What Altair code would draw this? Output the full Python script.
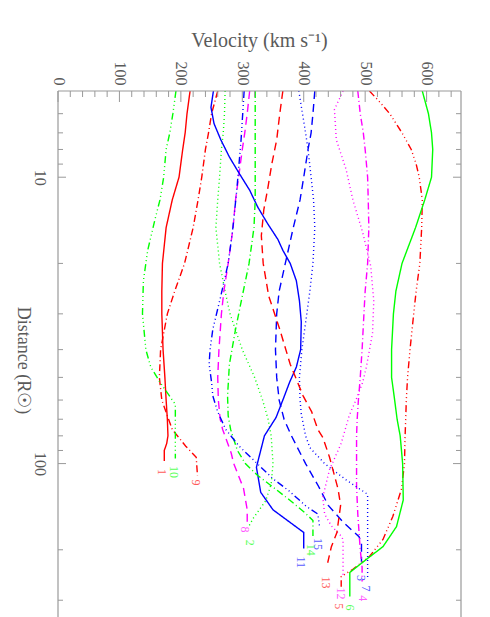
import altair as alt
import pandas as pd

# ---- data (distance in R_sun, velocity in km/s) ----
c1_d = [5, 6, 7, 8, 10, 12, 15, 20, 25, 30, 40, 50, 60, 70, 80, 85, 90, 98]
c1_v = [215, 210, 207, 203, 197, 186, 176, 170, 169, 169, 171, 174, 176, 178, 179, 177, 173, 173]

c2_d = [5, 6, 7, 8, 10, 12, 15, 20, 25, 30, 40, 50, 60, 70, 80, 100, 118, 135, 155, 165]
c2_v = [272, 271, 269, 266, 263, 260, 257, 263, 272, 280, 300, 320, 333, 342, 347, 350, 347, 338, 318, 311]

c3_d = [5, 6, 7, 8, 10, 12, 15, 20, 25, 30, 40, 50, 60, 70, 80, 100, 120, 140, 160, 180, 190, 220]
c3_v = [418, 415, 412, 407, 400, 394, 383, 370, 360, 356, 354, 356, 360, 368, 380, 403, 424, 440, 464, 490, 494, 494]

c4_d = [5, 6, 7, 8, 10, 12, 15, 20, 25, 30, 40, 50, 60, 70, 80, 100, 120, 150, 200, 230, 258]
c4_v = [488, 492, 497, 500, 504, 505, 506, 504, 500, 498, 495, 492, 489, 487, 486, 486, 486, 488, 492, 495, 495]

c5_d = [5, 5.5, 6, 7, 8, 9, 10, 12, 15, 20, 25, 30, 40, 50, 60, 70, 80, 100, 123, 153, 184, 211, 234, 248, 269]
c5_v = [507, 525, 540, 560, 575, 583, 588, 593, 592, 589, 583, 579, 573, 569, 567, 566, 565, 564, 559, 545, 529, 507, 480, 461, 461]

c6_d = [5, 6, 7, 8, 10, 12, 15, 20, 25, 30, 40, 50, 60, 70, 80, 100, 134, 166, 195, 216, 240, 291]
c6_v = [593, 603, 608, 610, 608, 597, 582, 560, 550, 546, 543, 543, 548, 552, 557, 561, 562, 551, 529, 502, 475, 475]

c7_d = [5, 6, 7, 8, 10, 12, 15, 20, 25, 30, 40, 50, 60, 67, 80, 88, 100, 114, 128, 250]
c7_v = [392, 398, 403, 407, 412, 416, 418, 415, 410, 405, 397, 393, 394, 396, 403, 410, 434, 469, 504, 504]

c8_d = [5, 6, 7, 8, 10, 12, 15, 20, 25, 30, 40, 50, 60, 70, 76, 92, 100, 122, 145, 165]
c8_v = [312, 308, 304, 300, 294, 289, 285, 277, 270, 266, 262, 260, 261, 264, 268, 282, 286, 302, 308, 308]

c9_d = [5, 6, 7, 8, 10, 12, 15, 20, 25, 30, 40, 50, 60, 70, 76, 87, 95, 110]
c9_v = [260, 250, 245, 240, 234, 228, 220, 206, 190, 178, 167, 165, 169, 180, 186, 208, 225, 227]

c10_d = [5, 6, 7, 8, 10, 12, 14, 18, 23, 30, 40, 46, 52, 60, 62, 96]
c10_v = [192, 187, 182, 176, 172, 166, 158, 146, 139, 137.5, 143, 151, 166, 186, 191, 191]

c11_d = [5, 5.7, 6.5, 7.4, 8.5, 9.7, 11.1, 12.7, 14.5, 16.5, 18, 20, 23, 27, 32, 40, 46, 52, 60, 69, 80, 103, 126, 145, 160, 174, 198]
c11_v = [253, 249, 254, 265, 279, 295, 312, 325, 341, 358, 366, 378, 388, 393, 396, 395, 388, 377, 366, 355, 336, 323, 330, 350, 377, 400, 400]

c12_d = [5, 5.8, 7.4, 9.4, 12, 15.6, 20.4, 27, 35, 46, 52, 60, 68, 85, 105, 131, 150, 165, 180, 185, 250]
c12_v = [464, 450, 453, 469, 480, 496, 509, 514, 512, 502, 496, 485, 474, 461, 442, 431, 434, 445, 462, 464, 464]

c13_d = [5, 6, 7.4, 9, 11.1, 13, 16, 20, 26, 34, 45, 58, 66, 76, 81, 95, 123, 140, 174, 195, 222]
c13_v = [366, 361, 356, 348, 341, 335, 331, 334, 343, 361, 378, 399, 413, 423, 431, 442, 456, 460, 454, 445, 439]

c14_d = [5, 8, 12, 15, 20, 26, 34, 45, 58, 68, 76, 90, 100, 110, 119, 134, 148, 158, 179]
c14_v = [321, 321, 321, 319, 311, 300, 289, 279, 276, 277, 281, 292, 305, 325, 346, 377, 401, 415, 415]

c15_d = [5, 7.4, 11.1, 15.5, 20, 26, 34, 40, 45, 52, 58, 66, 76, 87, 98, 113, 125, 141, 150, 167]
c15_v = [303, 298, 291, 284, 277, 265, 252, 247.5, 246, 250, 252, 260, 273, 295, 320, 350, 377, 404, 423, 426]

curve_names = [str(i) for i in range(1, 16)]
curve_colors = ["#ff0000", "#00ff00", "#0000ff", "#ff00ff"] * 3 + ["#ff0000", "#00ff00", "#0000ff"]
label_colors = ["#ff5a5a", "#5aff5a", "#5a5aff", "#ff5aff"] * 3 + ["#ff5a5a", "#5aff5a", "#5a5aff"]
curve_dashes = [[1, 0], [1, 3], [8, 5], [7, 3, 1, 3], [7, 3, 1, 3, 1, 3, 1, 3]] * 3

# end-of-curve labels (velocity, distance)
lab_v = [170, 312, 494, 496, 458, 475, 502, 305, 225, 189, 396, 461, 437, 412, 423]
lab_d = [107, 189, 251, 295, 315, 318, 273, 170, 116.5, 107, 221, 284, 260, 200, 191]

# axis ticks
vel_major = [0, 100, 200, 300, 400, 500, 600]
vel_minor = [20, 40, 60, 80, 120, 140, 160, 180, 220, 240, 260, 280, 320, 340, 360, 380,
             420, 440, 460, 480, 520, 540, 560, 580, 620, 640]
dist_major = [10, 100]
dist_minor = [6, 7, 8, 9, 20, 30, 40, 50, 60, 70, 80, 90, 200, 300]

# ---- build tables ----
all_d = [c1_d, c2_d, c3_d, c4_d, c5_d, c6_d, c7_d, c8_d, c9_d, c10_d, c11_d, c12_d, c13_d, c14_d, c15_d]
all_v = [c1_v, c2_v, c3_v, c4_v, c5_v, c6_v, c7_v, c8_v, c9_v, c10_v, c11_v, c12_v, c13_v, c14_v, c15_v]
rows = []
for name, ds, vs in zip(curve_names, all_d, all_v):
    for i, (d, v) in enumerate(zip(ds, vs)):
        rows.append({"curve": name, "d": d, "v": v, "idx": i})
df = pd.DataFrame(rows)
labdf = pd.DataFrame({"curve": curve_names, "v": lab_v, "d": lab_d})

W, H = 403, 545
FONT = "Liberation Serif"
TXT = "#5a5a5a"
LINE = "#999999"

xscale = alt.Scale(domain=[0, 656], nice=False, zero=False)
yscale = alt.Scale(type="log", domain=[5, 400], reverse=True, nice=False)
cscale = alt.Scale(domain=curve_names, range=curve_colors)
lscale = alt.Scale(domain=curve_names, range=label_colors)
dscale = alt.Scale(domain=curve_names, range=curve_dashes)

xaxis = alt.Axis(orient="top", values=vel_major, format="d", title="Velocity (km s⁻¹)",
                 labelAngle=90, labelAlign="right", labelBaseline="middle", labelPadding=6,
                 ticks=False, domain=False, grid=False, labelOverlap=False, labelFlush=False,
                 labelBound=False, labelFont=FONT, labelFontSize=16, labelColor=TXT,
                 titleFont=FONT, titleFontSize=20, titleFontWeight="normal", titleColor=TXT,
                 titleX=201, titleY=-51, titleAlign="center", titleBaseline="middle")
yaxis = alt.Axis(orient="left", values=dist_major, format="d", title="Distance (R☉)",
                 labelAngle=90, labelAlign="center", labelBaseline="top", labelPadding=11,
                 ticks=False, domain=False, grid=False, labelOverlap=False, labelFlush=False,
                 labelBound=False, labelFont=FONT, labelFontSize=16, labelColor=TXT,
                 titleFont=FONT, titleFontSize=18, titleFontWeight="normal", titleColor=TXT,
                 titleAngle=90, titleX=-36, titleY=269, titleAlign="center", titleBaseline="middle")

lines = alt.Chart(df).mark_line(strokeWidth=1.4, clip=True).encode(
    x=alt.X("v:Q", scale=xscale, axis=xaxis),
    y=alt.Y("d:Q", scale=yscale, axis=yaxis),
    color=alt.Color("curve:N", scale=cscale, legend=None),
    strokeDash=alt.StrokeDash("curve:N", scale=dscale, legend=None),
    detail="curve:N",
    order="idx:Q",
)

labels = alt.Chart(labdf).mark_text(angle=90, align="center", baseline="middle",
                                    font=FONT, fontSize=12).encode(
    x=alt.X("v:Q", scale=xscale, axis=None),
    y=alt.Y("d:Q", scale=yscale, axis=None),
    text="curve:N",
    color=alt.Color("curve:N", scale=lscale, legend=None),
)

def vtick(values, length):
    return alt.Chart(pd.DataFrame({"v": values})).mark_rule(color=LINE, strokeWidth=1).encode(
        x=alt.X("v:Q", scale=xscale, axis=None), y=alt.value(0), y2=alt.value(length))

def dtick(values, x0, x1):
    return alt.Chart(pd.DataFrame({"d": values})).mark_rule(color=LINE, strokeWidth=1).encode(
        y=alt.Y("d:Q", scale=yscale, axis=None), x=alt.value(x0), x2=alt.value(x1))

one = pd.DataFrame({"a": [0]})
frame_left = alt.Chart(one).mark_rule(color=LINE, strokeWidth=1.2).encode(
    x=alt.value(0), y=alt.value(0), y2=alt.value(H))
frame_right = alt.Chart(one).mark_rule(color=LINE, strokeWidth=1.2).encode(
    x=alt.value(W), y=alt.value(0), y2=alt.value(H))
frame_top = alt.Chart(one).mark_rule(color=LINE, strokeWidth=1.2).encode(
    x=alt.value(0), x2=alt.value(W), y=alt.value(0))

chart = alt.layer(
    lines,
    vtick(vel_major, 11), vtick(vel_minor, 6),
    dtick(dist_major, 0, 8), dtick(dist_minor, 0, 5),
    dtick(dist_major, W, W - 8), dtick(dist_minor, W, W - 5),
    frame_left, frame_right, frame_top,
    labels,
).resolve_axis(x="independent", y="independent").resolve_scale(color="independent").properties(
    width=W, height=H,
    padding={"left": 50, "top": 83, "right": 21, "bottom": 0},
    autosize=alt.AutoSizeParams(type="none"),
).configure_view(strokeWidth=0)

chart.save("out.html", embed_options={"renderer": "svg", "actions": False})
